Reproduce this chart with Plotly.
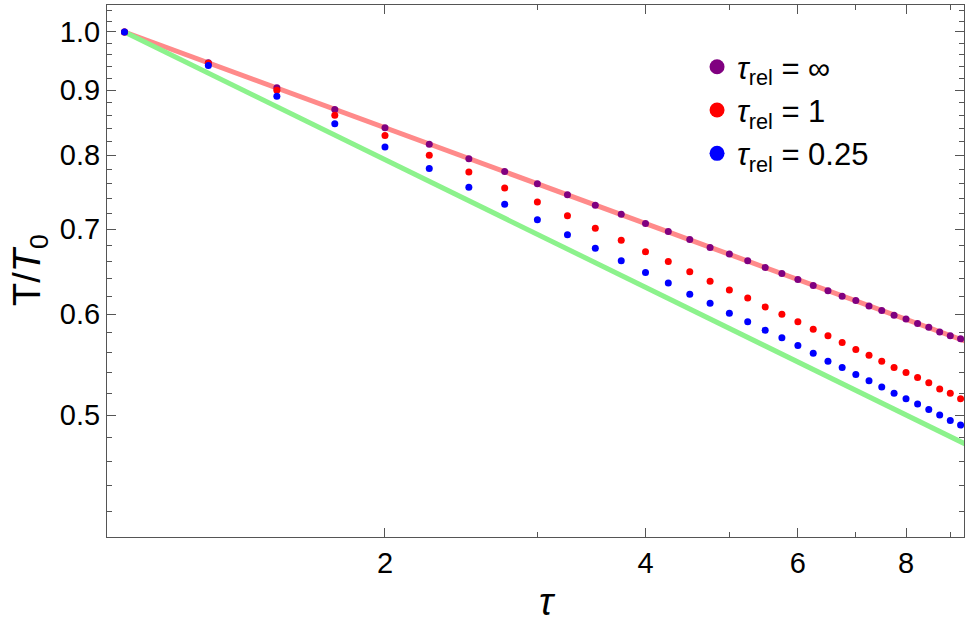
import plotly.graph_objects as go

tau = [1.0, 1.25, 1.5, 1.75, 2.0, 2.25, 2.5, 2.75, 3.0, 3.25, 3.5, 3.75, 4.0, 4.25, 4.5, 4.75,
       5.0, 5.25, 5.5, 5.75, 6.0, 6.25, 6.5, 6.75, 7.0, 7.25, 7.5, 7.75, 8.0, 8.25, 8.5, 8.75,
       9.0, 9.25]

T_inf = [1.000, 0.946, 0.904, 0.869, 0.841, 0.816, 0.795, 0.777, 0.760, 0.745, 0.731, 0.719,
         0.707, 0.697, 0.687, 0.677, 0.669, 0.661, 0.653, 0.646, 0.639, 0.632, 0.626, 0.620,
         0.615, 0.609, 0.604, 0.599, 0.595, 0.590, 0.586, 0.581, 0.577, 0.574]

T_1 = [1.000, 0.945, 0.900, 0.860, 0.829, 0.800, 0.776, 0.754, 0.735, 0.717, 0.701, 0.686,
       0.672, 0.660, 0.648, 0.637, 0.627, 0.618, 0.608, 0.600, 0.592, 0.584, 0.577, 0.570,
       0.563, 0.557, 0.551, 0.545, 0.540, 0.535, 0.530, 0.524, 0.520, 0.515]

T_025 = [1.000, 0.941, 0.890, 0.847, 0.812, 0.781, 0.755, 0.732, 0.712, 0.693, 0.676, 0.661,
         0.647, 0.635, 0.622, 0.612, 0.601, 0.592, 0.583, 0.575, 0.567, 0.559, 0.551, 0.545,
         0.538, 0.532, 0.526, 0.520, 0.515, 0.510, 0.505, 0.500, 0.495, 0.491]

line_tau = [1.0, 10.0]
line_quarter = [1.0, 0.5623]
line_third = [1.0, 0.4642]

y_major = [0.5, 0.6, 0.7, 0.8, 0.9, 1.0]
y_major_text = ["0.5", "0.6", "0.7", "0.8", "0.9", "1.0"]
y_minor = [0.42, 0.44, 0.46, 0.48, 0.52, 0.54, 0.56, 0.58, 0.62, 0.64, 0.66, 0.68,
           0.72, 0.74, 0.76, 0.78, 0.82, 0.84, 0.86, 0.88, 0.92, 0.94, 0.96, 0.98, 1.02, 1.04]
x_major = [2, 4, 6, 8]
x_major_text = ["2", "4", "6", "8"]
x_minor = [3, 5, 7, 9]

series_names = ["<i>τ</i><sub>rel</sub> = ∞", "<i>τ</i><sub>rel</sub> = 1", "<i>τ</i><sub>rel</sub> = 0.25"]
series_colors = ["#800080", "#FF0000", "#0000FF"]

FONT = "Liberation Sans, Arial, sans-serif"
AX = "#555555"

fig = go.Figure()
fig.add_trace(go.Scatter(x=line_tau, y=line_quarter, mode="lines",
                         line=dict(color="#FF8A8A", width=5), showlegend=False))
fig.add_trace(go.Scatter(x=line_tau, y=line_third, mode="lines",
                         line=dict(color="#8CF28C", width=5), showlegend=False))
for ys, c in zip([T_inf, T_1, T_025], series_colors):
    fig.add_trace(go.Scatter(x=tau, y=ys, mode="markers",
                             marker=dict(color=c, size=7), showlegend=False))
for name, c in zip(series_names, series_colors):
    fig.add_trace(go.Scatter(x=[None], y=[None], mode="markers", name=name,
                             marker=dict(color=c, size=15)))

fig.update_layout(
    width=965, height=623,
    margin=dict(l=107, r=1, t=5, b=86),
    paper_bgcolor="white", plot_bgcolor="white",
    font=dict(family=FONT, color="black", size=29),
    legend=dict(x=0.6885, y=0.934, xanchor="left", yanchor="top",
                bgcolor="rgba(0,0,0,0)", font=dict(size=31), tracegroupgap=0),
    xaxis=dict(type="log", range=[-0.0202, 0.9701], showgrid=False, zeroline=False,
               showline=True, linecolor=AX, linewidth=1, mirror="ticks",
               ticks="inside", ticklen=9, tickcolor=AX, tickwidth=1,
               tickvals=x_major, ticktext=x_major_text,
               tickfont=dict(size=29, color="black"),
               minor=dict(tickvals=x_minor, ticks="inside", ticklen=5, tickcolor=AX, showgrid=False)),
    yaxis=dict(type="log", range=[-0.3969, 0.0212], showgrid=False, zeroline=False,
               showline=True, linecolor=AX, linewidth=1, mirror="ticks",
               ticks="inside", ticklen=9, tickcolor=AX, tickwidth=1,
               tickvals=y_major, ticktext=y_major_text,
               tickfont=dict(size=29, color="black"),
               minor=dict(tickvals=y_minor, ticks="inside", ticklen=5, tickcolor=AX, showgrid=False)),
)

fig.add_annotation(text="T/<i>T</i><sub>0</sub>", textangle=-90, xref="paper", yref="paper",
                   x=-0.0897, y=0.502, xanchor="center", yanchor="middle", showarrow=False,
                   font=dict(size=38, family=FONT))
fig.add_annotation(text="<i>τ</i>", xref="paper", yref="paper",
                   x=0.514, y=-0.122, xanchor="center", yanchor="middle", showarrow=False,
                   font=dict(size=38, family=FONT))

fig.write_html("out.html", config={"displayModeBar": False},
               post_script="document.body.style.margin='0';document.body.style.padding='0';")
